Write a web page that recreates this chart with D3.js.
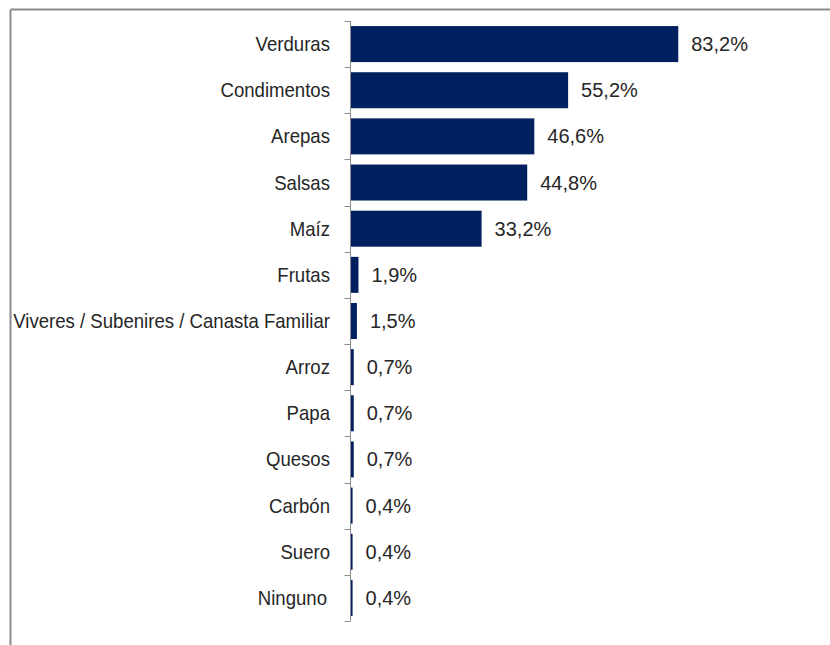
<!DOCTYPE html>
<html>
<head>
<meta charset="utf-8">
<script src="https://cdn.jsdelivr.net/npm/d3@7"></script>
<style>
  html, body { margin: 0; padding: 0; background: #fff; }
  svg { display: block; }
  .lbl { font-family: "Liberation Sans", Arial, sans-serif; font-size: 20px; fill: #262626; }
</style>
</head>
<body>
<svg id="chart" width="830" height="645"></svg>
<script>
// Product categories and share of respondents (%)
const categories = ["Verduras", "Condimentos", "Arepas", "Salsas", "Maíz", "Frutas",
  "Viveres / Subenires / Canasta Familiar", "Arroz", "Papa", "Quesos", "Carbón", "Suero", "Ninguno"];
const values = [83.2, 55.2, 46.6, 44.8, 33.2, 1.9, 1.5, 0.7, 0.7, 0.7, 0.4, 0.4, 0.4];
const valueLabels = ["83,2%", "55,2%", "46,6%", "44,8%", "33,2%", "1,9%", "1,5%", "0,7%", "0,7%", "0,7%", "0,4%", "0,4%", "0,4%"];

const data = categories.map((c, i) => ({ cat: c, v: values[i], lbl: valueLabels[i] }));

const svg = d3.select("#chart");

// frame lines (top and left)
svg.append("line").attr("x1", 10.5).attr("x2", 830).attr("y1", 9.5).attr("y2", 9.5)
  .attr("stroke", "#8c8c8c").attr("stroke-width", 2);
svg.append("line").attr("x1", 10.5).attr("x2", 10.5).attr("y1", 9.5).attr("y2", 645)
  .attr("stroke", "#8c8c8c").attr("stroke-width", 2);

const axisX = 350.5;
const x = d3.scaleLinear().domain([0, 90]).range([351, 705]);
const y = d3.scaleBand().domain(categories).range([21, 621])
  .paddingInner(0.22).paddingOuter(0.11);

// bars
svg.append("g").selectAll("rect").data(data).join("rect")
  .attr("x", x(0))
  .attr("y", d => y(d.cat))
  .attr("width", d => x(d.v) - x(0))
  .attr("height", y.bandwidth())
  .attr("fill", "#002060");

// category axis with ticks at band boundaries
const axisG = svg.append("g");
axisG.append("line").attr("x1", axisX).attr("x2", axisX).attr("y1", 21).attr("y2", 621)
  .attr("stroke", "#8c8c8c").attr("stroke-width", 1);
const bounds = d3.range(categories.length + 1).map(i => 21 + i * y.step());
axisG.selectAll(".tick").data(bounds).join("line")
  .attr("x1", axisX - 6).attr("x2", axisX)
  .attr("y1", d => Math.round(d) + 0.5).attr("y2", d => Math.round(d) + 0.5)
  .attr("stroke", "#8c8c8c").attr("stroke-width", 1);

// category labels (slightly condensed)
svg.append("g").selectAll("text").data(data).join("text")
  .attr("class", "lbl")
  .attr("transform", d => `translate(${d.cat === "Ninguno" ? 327 : 330},${y(d.cat) + y.bandwidth() / 2}) scale(0.93,1)`)
  .attr("dy", "0.35em")
  .attr("text-anchor", "end")
  .text(d => d.cat);

// value labels
svg.append("g").selectAll("text").data(data).join("text")
  .attr("class", "lbl")
  .attr("x", d => x(d.v) + 13)
  .attr("y", d => y(d.cat) + y.bandwidth() / 2)
  .attr("dy", "0.35em")
  .text(d => d.lbl);
</script>
</body>
</html>
